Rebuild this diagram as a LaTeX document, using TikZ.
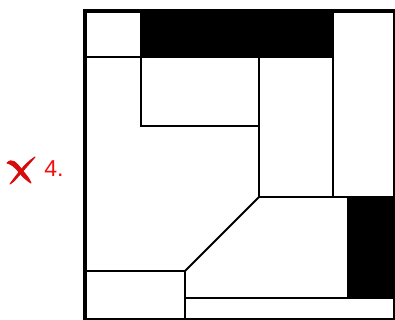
\documentclass[tikz,border=0pt]{standalone}
\usepackage{fontspec}
\setmainfont{Liberation Sans}
\usetikzlibrary{positioning}
\definecolor{markred}{RGB}{245,12,12}

\begin{document}
\begin{tikzpicture}[x=1pt, y=-1pt,
  frame/.style={line width=4pt},
  wall/.style={line width=1.8pt},
  brush/.style={fill=markred!88!black, draw=markred!88!black, line width=1pt, line join=round},
  redlabel/.style={text=markred, inner sep=0pt}]
\useasboundingbox (0,0) rectangle (395,320);
% black blocks
\fill (140,11) rectangle (332,57);
\fill (347,197) rectangle (395,298);
% inner walls
\draw[wall] (85,57) -- (332,57);
\draw[wall] (141,57) -- (141,126) -- (259,126);
\draw[wall] (259,57) -- (259,197);
\draw[wall] (333,11) -- (333,197);
\draw[wall] (259,197) -- (394,197);
\draw[wall] (394,11) -- (394,320);
\draw[wall] (259,197) -- (185,271) -- (85,271);
\draw[wall] (185,271) -- (185,320);
\draw[wall] (185,298) -- (394,298);
\draw[wall] (85,319) -- (394,319);
% outer frame
\draw[frame] (85,320) -- (85,11) -- (395,11);
% cross mark
\path[brush] (7,163) .. controls (12,158) and (16,162) .. (22,170)
  .. controls (26,175) and (29,178) .. (31,183)
  .. controls (26,180) and (22,176) .. (19,172)
  .. controls (14,166) and (11,164) .. (7,163) -- cycle;
\path[brush] (10,184) .. controls (17,175) and (24,164) .. (35,157)
  .. controls (29,164) and (22,172) .. (14,181) -- cycle;
\node[redlabel, font=\fontsize{23}{23}\selectfont] (num) at (54,169) {4.};
\end{tikzpicture}
\end{document}
